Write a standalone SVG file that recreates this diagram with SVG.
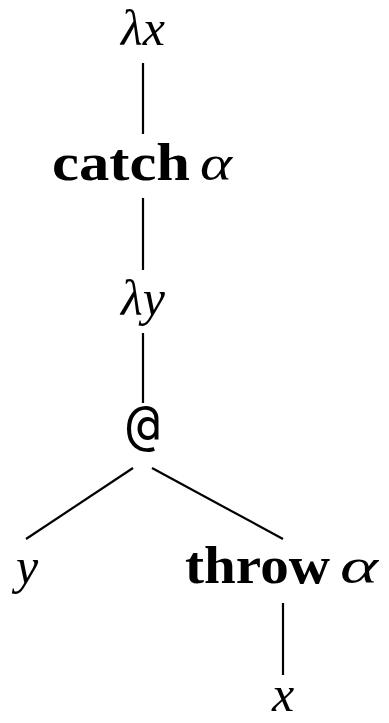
<svg xmlns="http://www.w3.org/2000/svg" width="389" height="723" viewBox="0 0 389 723">
<style>
.m{font-family:"Liberation Serif","DejaVu Serif",serif;font-style:italic;font-size:50px;fill:#000}
.b{font-family:"Liberation Serif","DejaVu Serif",serif;font-weight:bold;font-size:52px;fill:#000}
.t{font-family:"DejaVu Sans Mono","Liberation Mono",monospace;font-size:56px;fill:#000}
.e{stroke:#000;stroke-width:2.2;fill:none}
</style>
<rect width="389" height="723" fill="#fff"/>
<g id="connectors">
<line class="e" x1="143" y1="63" x2="143" y2="134"/>
<line class="e" x1="143" y1="198" x2="143" y2="270"/>
<line class="e" x1="143" y1="333" x2="143" y2="403"/>
<line class="e" x1="133" y1="468" x2="26" y2="539"/>
<line class="e" x1="152" y1="468" x2="283" y2="539"/>
<line class="e" x1="283" y1="603" x2="283" y2="675"/>
</g>
<g id="n-lx"><text class="m" x="143" y="45" text-anchor="middle">λx</text></g>
<g id="n-catch"><text class="b" x="52" y="180" textLength="138" lengthAdjust="spacingAndGlyphs">catch</text><text class="m" x="200" y="180" textLength="32" lengthAdjust="spacingAndGlyphs">α</text></g>
<g id="n-ly"><text class="m" x="143" y="315" text-anchor="middle">λy</text></g>
<g id="n-app"><text class="t" x="143" y="443" text-anchor="middle">@</text></g>
<g id="n-y"><text class="m" x="27" y="583" text-anchor="middle">y</text></g>
<g id="n-throw"><text class="b" x="185" y="583" textLength="145" lengthAdjust="spacingAndGlyphs">throw</text><text class="m" x="340" y="583" textLength="38" lengthAdjust="spacingAndGlyphs">α</text></g>
<g id="n-x"><text class="m" x="283" y="711" text-anchor="middle">x</text></g>
</svg>
